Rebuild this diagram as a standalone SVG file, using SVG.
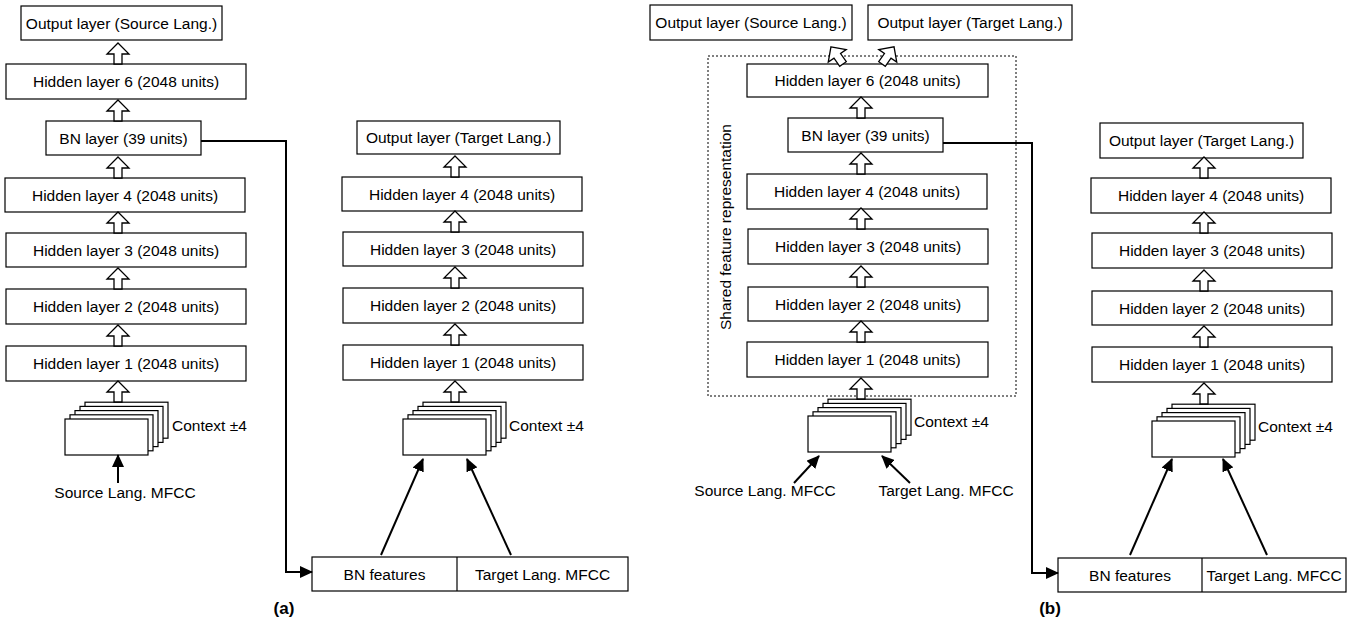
<svg xmlns="http://www.w3.org/2000/svg" xmlns:xlink="http://www.w3.org/1999/xlink" width="1358" height="628" viewBox="0 0 1358 628">
<style>
.box{fill:#fff;stroke:#000;stroke-width:1.2}
.t{font-family:"Liberation Sans",Arial,sans-serif;font-size:15.5px;fill:#000}
.m{text-anchor:middle}
.b{font-weight:bold;font-size:17px}
.blk{fill:#fff;stroke:#000;stroke-width:1.3}
.conn{fill:none;stroke:#000;stroke-width:2}
.dot{fill:none;stroke:#000;stroke-width:1;stroke-dasharray:2,2}
</style>
<defs>
<path id="ba" d="M0,-21 L11,-10 L4,-10 L4,0 L-4,0 L-4,-10 L-11,-10 Z"/>
<marker id="ah" markerUnits="userSpaceOnUse" markerWidth="14" markerHeight="12" refX="12" refY="6" orient="auto">
<path d="M0,0 L13,6 L0,12 Z" fill="#000"/>
</marker>
<g id="stack">
<rect class="box" x="20" y="-16.8" width="83" height="36"/>
<rect class="box" x="15" y="-12.6" width="83" height="36"/>
<rect class="box" x="10" y="-8.4" width="83" height="36"/>
<rect class="box" x="5" y="-4.2" width="83" height="36"/>
<rect class="box" x="0" y="0" width="83" height="36"/>
</g>
</defs>

<!-- ===== (a) left network ===== -->
<g id="a_out_src"><rect class="box" x="21" y="6" width="201" height="34"/><text class="t m" x="121.5" y="28.5">Output layer (Source Lang.)</text></g>
<g id="a_h6"><rect class="box" x="6" y="64" width="240" height="35"/><text class="t m" x="126" y="87">Hidden layer 6 (2048 units)</text></g>
<g id="a_bn"><rect class="box" x="46" y="121" width="155" height="34"/><text class="t m" x="123.5" y="143.5">BN layer (39 units)</text></g>
<g id="a_h4"><rect class="box" x="5" y="178" width="240" height="34"/><text class="t m" x="125" y="200.5">Hidden layer 4 (2048 units)</text></g>
<g id="a_h3"><rect class="box" x="6" y="233" width="240" height="34"/><text class="t m" x="126" y="255.5">Hidden layer 3 (2048 units)</text></g>
<g id="a_h2"><rect class="box" x="6" y="289" width="240" height="35"/><text class="t m" x="126" y="312">Hidden layer 2 (2048 units)</text></g>
<g id="a_h1"><rect class="box" x="6" y="346" width="240" height="35"/><text class="t m" x="126" y="369">Hidden layer 1 (2048 units)</text></g>
<g id="a_ctx1"><use xlink:href="#stack" transform="translate(65,419)"/><text class="t" x="172" y="431">Context ±4</text></g>
<g id="a_src_mfcc"><text class="t m" x="125" y="498">Source Lang. MFCC</text></g>

<!-- ===== (a) right network ===== -->
<g id="a_out_tgt"><rect class="box" x="357" y="121" width="203" height="33"/><text class="t m" x="458.5" y="143">Output layer (Target Lang.)</text></g>
<g id="a2_h4"><rect class="box" x="342" y="177" width="240" height="34"/><text class="t m" x="462" y="199.5">Hidden layer 4 (2048 units)</text></g>
<g id="a2_h3"><rect class="box" x="343" y="232" width="240" height="34"/><text class="t m" x="463" y="254.5">Hidden layer 3 (2048 units)</text></g>
<g id="a2_h2"><rect class="box" x="343" y="288" width="240" height="35"/><text class="t m" x="463" y="311">Hidden layer 2 (2048 units)</text></g>
<g id="a2_h1"><rect class="box" x="343" y="345" width="240" height="35"/><text class="t m" x="463" y="368">Hidden layer 1 (2048 units)</text></g>
<g id="a_ctx2"><use xlink:href="#stack" transform="translate(403,419)"/><text class="t" x="509" y="431">Context ±4</text></g>
<g id="a_feat"><rect class="box" x="312" y="557" width="316" height="34"/><line x1="457" y1="557" x2="457" y2="591" stroke="#000" stroke-width="1.2"/><text class="t m" x="384.5" y="579.5">BN features</text><text class="t m" x="542.5" y="579.5">Target Lang. MFCC</text></g>
<g id="a_label"><text class="t m b" x="284" y="614">(a)</text></g>

<!-- ===== (b) shared network ===== -->
<g id="b_shared"><rect class="dot" x="708" y="56" width="308" height="340"/><text class="t m" x="731" y="227" transform="rotate(-90 731 227)">Shared feature representation</text></g>
<g id="b_out_src"><rect class="box" x="650" y="5" width="202" height="35"/><text class="t m" x="751" y="28">Output layer (Source Lang.)</text></g>
<g id="b_out_tgt"><rect class="box" x="868" y="5" width="204" height="35"/><text class="t m" x="970" y="28">Output layer (Target Lang.)</text></g>
<g id="b_h6"><rect class="box" x="747" y="64" width="241" height="33"/><text class="t m" x="867.5" y="86">Hidden layer 6 (2048 units)</text></g>
<g id="b_bn"><rect class="box" x="788" y="118" width="155" height="34"/><text class="t m" x="865.5" y="140.5">BN layer (39 units)</text></g>
<g id="b_h4"><rect class="box" x="747" y="174" width="240" height="35"/><text class="t m" x="867" y="197">Hidden layer 4 (2048 units)</text></g>
<g id="b_h3"><rect class="box" x="748" y="229" width="240" height="35"/><text class="t m" x="868" y="252">Hidden layer 3 (2048 units)</text></g>
<g id="b_h2"><rect class="box" x="748" y="287" width="240" height="34"/><text class="t m" x="868" y="309.5">Hidden layer 2 (2048 units)</text></g>
<g id="b_h1"><rect class="box" x="747" y="342" width="241" height="35"/><text class="t m" x="867.5" y="365">Hidden layer 1 (2048 units)</text></g>
<g id="b_ctx1"><use xlink:href="#stack" transform="translate(808,416)"/><text class="t" x="914" y="427">Context ±4</text></g>
<g id="b_src_mfcc"><text class="t m" x="765" y="496">Source Lang. MFCC</text></g>
<g id="b_tgt_mfcc"><text class="t m" x="946" y="496">Target Lang. MFCC</text></g>

<!-- ===== (b) right network ===== -->
<g id="b2_out_tgt"><rect class="box" x="1100" y="123" width="203" height="35"/><text class="t m" x="1201.5" y="146">Output layer (Target Lang.)</text></g>
<g id="b2_h4"><rect class="box" x="1091" y="178" width="240" height="35"/><text class="t m" x="1211" y="201">Hidden layer 4 (2048 units)</text></g>
<g id="b2_h3"><rect class="box" x="1092" y="233" width="240" height="35"/><text class="t m" x="1212" y="256">Hidden layer 3 (2048 units)</text></g>
<g id="b2_h2"><rect class="box" x="1092" y="291" width="240" height="34"/><text class="t m" x="1212" y="313.5">Hidden layer 2 (2048 units)</text></g>
<g id="b2_h1"><rect class="box" x="1092" y="347" width="240" height="35"/><text class="t m" x="1212" y="370">Hidden layer 1 (2048 units)</text></g>
<g id="b_ctx2"><use xlink:href="#stack" transform="translate(1152,421)"/><text class="t" x="1258" y="432">Context ±4</text></g>
<g id="b_feat"><rect class="box" x="1058" y="558" width="288" height="34"/><line x1="1202" y1="558" x2="1202" y2="592" stroke="#000" stroke-width="1.2"/><text class="t m" x="1130" y="580.5">BN features</text><text class="t m" x="1274" y="580.5">Target Lang. MFCC</text></g>
<g id="b_label"><text class="t m b" x="1050" y="614">(b)</text></g>

<!-- ===== connectors ===== -->
<g id="connectors">
<g class="blk">
<use xlink:href="#ba" transform="translate(118,64)"/>
<use xlink:href="#ba" transform="translate(118,121)"/>
<use xlink:href="#ba" transform="translate(118,178)"/>
<use xlink:href="#ba" transform="translate(118,233)"/>
<use xlink:href="#ba" transform="translate(118,289)"/>
<use xlink:href="#ba" transform="translate(118,346)"/>
<use xlink:href="#ba" transform="translate(118,402)"/>
<use xlink:href="#ba" transform="translate(455,177)"/>
<use xlink:href="#ba" transform="translate(455,232)"/>
<use xlink:href="#ba" transform="translate(455,288)"/>
<use xlink:href="#ba" transform="translate(455,345)"/>
<use xlink:href="#ba" transform="translate(455,402)"/>
<use xlink:href="#ba" transform="translate(843,64) rotate(-35)"/>
<use xlink:href="#ba" transform="translate(882,64) rotate(35)"/>
<use xlink:href="#ba" transform="translate(861,118)"/>
<use xlink:href="#ba" transform="translate(861,174)"/>
<use xlink:href="#ba" transform="translate(861,229)"/>
<use xlink:href="#ba" transform="translate(861,287)"/>
<use xlink:href="#ba" transform="translate(861,342)"/>
<use xlink:href="#ba" transform="translate(861,399)"/>
<use xlink:href="#ba" transform="translate(1204,178)"/>
<use xlink:href="#ba" transform="translate(1204,233)"/>
<use xlink:href="#ba" transform="translate(1204,291)"/>
<use xlink:href="#ba" transform="translate(1204,347)"/>
<use xlink:href="#ba" transform="translate(1204,404)"/>
</g>
<path class="conn" d="M201,141 H286 V572 H312" marker-end="url(#ah)"/>
<path class="conn" d="M943,143 H1032 V573 H1058" marker-end="url(#ah)"/>
<path class="conn" d="M118,483 V455" marker-end="url(#ah)"/>
<path class="conn" d="M381,555 L423,459" marker-end="url(#ah)"/>
<path class="conn" d="M511,555 L467,459" marker-end="url(#ah)"/>
<path class="conn" d="M794,483 L819,456" marker-end="url(#ah)"/>
<path class="conn" d="M910,483 L882,456" marker-end="url(#ah)"/>
<path class="conn" d="M1130,555 L1172,459" marker-end="url(#ah)"/>
<path class="conn" d="M1267,555 L1223,459" marker-end="url(#ah)"/>
</g>
</svg>
